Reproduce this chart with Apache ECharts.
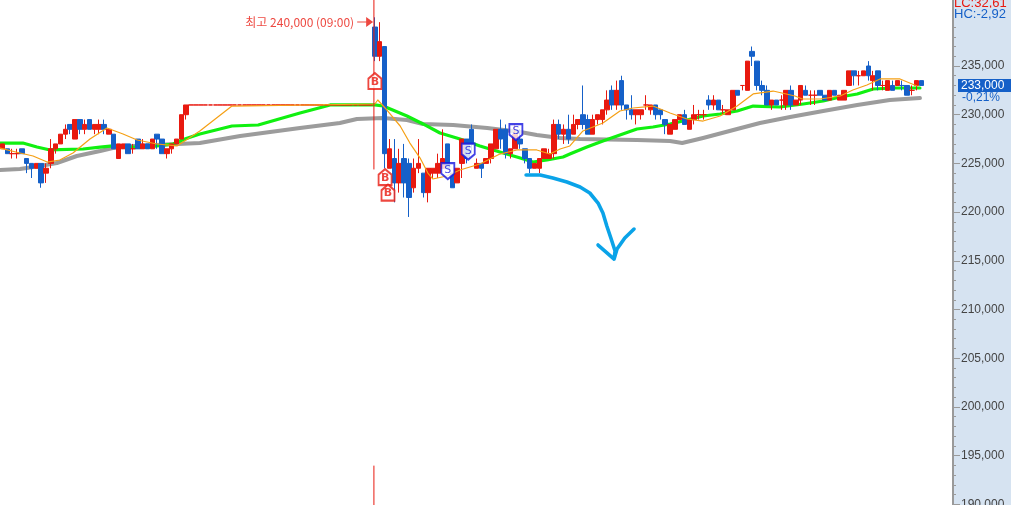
<!DOCTYPE html>
<html><head><meta charset="utf-8">
<style>html,body{margin:0;padding:0;background:#d6e3f1;overflow:hidden}#c{width:1011px;height:505px}</style>
<script src="https://cdn.jsdelivr.net/npm/echarts@6/dist/echarts.min.js"></script>
</head><body><div id="c"></div>
<script>
// candle rows: open, close, low, high (thousand won)
const candlesMorning = [
[226.5,227,226.5,227],[226.5,226,226,226.5],[226,226,225.5,226.5],[226,226,225.5,226.5],[226.5,226,226,226.5],
[225.5,225,224,225.5],[225,224.5,223.5,225],[224.5,225,224.5,225],[225,223,222.5,225],[224,224.5,223,225],
[225,226.5,224.5,227.5],[226.5,227,226,227],[227,228,227,228],[228,228.5,227.5,229],[229,228.5,228,229],
[227.5,229.5,227.5,229.5],[229.5,228.5,228,229.5],[228.5,229,228,229.5],[229.5,228.5,228.5,229.5],[228.5,229,228,229],
[228.5,229,228,229.5],[229,228.5,228,229.5],[228,228.5,228,228.5],[228,226.5,226.5,228],[225.5,227,225.5,227],
[226.5,227,226.5,227],[227,226,226,227],[226.5,226.5,226,227],[227.5,226.5,226.5,227.5],[226.5,227,226.5,227.5],
[227,226.5,226.5,227],[226.5,227.5,226.5,227.5],[228,227.5,226.5,228],[227.5,226,226,227.5],[226,226.5,225.5,226.5],
[226.5,227,226,227],[227,227.5,227,227.5],[227.5,230,227.5,230],[230,231,229.5,231]];
const candlesFlat = [
[231,231,231,231],[231,231,231,231],[231,231,231,231],[231,231,231,231],[231,231,231,231],[231,231,231,231],[231,231,231,231],[231,231,231,231],
[231,231,231,231],[231,231,231,231],[231,231,231,231],[231,231,231,231],[231,231,231,231],[231,231,231,231],[231,231,231,231],[231,231,231,231],
[231,231,231,231],[231,231,231,231],[231,231,231,231],[231,231,231,231],[231,231,231,231],[231,231,231,231],[231,231,231,231],[231,231,231,231],
[231,231,231,231],[231,231,231,231],[231,231,231,231],[231,231,231,231],[231,231,231,231],[231,231,231,231],[231,231,231,231],[231,231,231,231],
[231,231,231,231],[231,231,231,231],[231,231,231,231],[231,231,231,231],[231,231,231,231],[231,231,231,231]];
const candlesOpen = [
[239,236,235.5,240],[236,237.5,235.5,239.5],[237,226,224.5,237],[224.5,226.5,224.5,227.5],[225.5,223,221,227.5],
[223,225,222,226.5],[225.5,223,221.5,227],[225,221.5,219.5,225.5],[222.5,224.5,222,225.5],
[224.5,225,224,227.5],[224,222,221.5,224],[222,224.5,221,224.5],[224,224.5,223.5,224.5],[224,225,223.5,226],
[224.5,225.5,224.5,228.5],[227,224.5,224.5,227],[224,222.5,222.5,224],[223,224.5,223,224.5],[225,227.5,223.5,227.5],
[227.5,225.5,225,227.5],[228.5,227,226,229],[224.5,225,224.5,225.5],[225,224.5,223.5,225],[225,225.5,225,225.5],
[225.5,227,225,227],[226.5,228.5,226.5,228.5],[228.5,227.5,226.5,229.5],[228.5,226,225.5,229],[226,226.5,225.5,226.5],
[226.5,228,226.5,229],[227.5,227,226.5,228.5],[226.5,225.5,225,226.5],[225.5,224.5,224,225.5],[224.5,225,224.5,225],
[224.5,225.5,224,225.5],[225.5,226.5,225.5,226.5],[225.5,226,225.5,226.5],[226,229,225.5,229.5],[229,228,227.5,229.5],
[228,228.5,227,229],[228.5,227.5,227,230],[228,229,228,230]];
const candlesMidday = [
[229,229.5,228.5,229.5],[230,229,228.5,233],[229.5,228,228,230],[228,229.5,228,230],[229.5,230,229,230],
[229.5,230.5,229,230.5],[230.5,231.5,230,232.5],[232.5,231,230.5,233],[231,232.5,230.5,233.5],[233.5,231,230.5,234],
[231,230.5,229.5,231],[230.5,230,229.5,232],[230,230.5,229,230.5],[230,230.5,229.5,230.5],[231,231,230.5,232],
[230.5,231,230,231],[231,230,229.5,231],[230.5,230,229.5,230.5],[229.5,229,228,229.5],[228,229,228,229],
[228.5,229.5,228.5,229.5],[229.5,230,229.5,230],[230,229,229,230.5],[228.5,229.5,228.5,229.5],[229.5,230,229,231],
[230,230,229.5,230.5],[230,230,229.5,230.5],[231.5,231,230.5,232],[231,231.5,230.5,232],[231.5,230.5,230.5,231.5],
[230.5,230.5,230,231],[230,230.5,230,230.5],[230.5,232.5,230.5,232.5],[232.5,232,232,232.5]];
const candlesClose = [
[233,233,232.5,233],[232.5,235.5,232.5,235.5],[236.5,236,235,237],[235.5,233,232.5,235.5],[233,232.5,232,233.5],
[232.5,231,231,233],[231,231.5,230.5,231.5],[231.5,231,231,231.5],[231.5,231.5,230.5,232],[231,232.5,230.5,232.5],
[232.5,231,230.5,233],[231,231.5,231,231.5],[231.5,233,231,233],[232.5,232,232,233],[232,232,231,232.5],
[232,232,231,232.5],[232.5,232,232,232.5],[232,231.5,231.5,232],[231.5,232.5,231.5,232.5],[232.5,232,232,232.5],
[231.5,232,231.5,232],[231.5,232.5,231.5,232.5],[233,234.5,233,234.5],[234.5,234,233,234.5],[234,234,233,234.5],
[234,234.5,234,234.5],[235,234,233.5,235.5],[233.5,234,232.5,234.5],[234.5,233,232.5,234.5],[233,233,232.5,233.5],
[232.5,233.5,232.5,233.5],[233,232.5,232.5,233.5],[233,233.5,233,233.5],[233,233,232.5,233.5],[233,232,232,233],
[232.5,232.5,232,233],[233,233.5,232.5,233.5],[233.5,233,233,233.5]];
const emptySlots = ['-','-','-','-','-','-'];
// moving averages as [bar position, thousand won]
const maOrange = [[0,226.58],[4.1,226.07],[6.8,225.76],[9.7,225.14],[12.3,225.35],[15,226.07],[18.5,227.5],[22,228.63],[25.3,228.02],[28.2,227.4],[32.3,226.99],[36.4,226.79],[41.1,228.33],[47.7,230.89],[77.1,231.1],[77.7,231.51],[79.2,230.69],[82.3,228.84],[84.3,227.09],[86.4,225.55],[88,224.01],[89,223.4],[91.9,223.71],[94.6,224.32],[98.7,224.94],[102.8,225.96],[106.3,226.38],[110.4,226.38],[113.1,225.96],[115.2,226.48],[117.2,226.79],[119.9,228.33],[124,229.15],[127.5,230.38],[130.2,230.69],[134.3,230.89],[137.8,230.17],[141.3,229.56],[144.6,229.35],[148.1,229.87],[151.6,230.89],[154.9,232.13],[159,232.43],[163.5,231.92],[165,231.61],[168.7,231.61],[172.8,231.92],[175.4,232.54],[178.3,233.05],[181,233.67],[185.1,233.67],[188.6,232.95]];
const maGreen = [[0,227.09],[4.7,227.09],[7.6,226.68],[10.3,226.38],[17.1,226.48],[20.6,226.68],[23.2,226.79],[27.4,226.68],[30.2,226.68],[35.6,226.99],[38,227.5],[41.1,228.02],[47.7,228.84],[53.1,228.94],[61.7,230.17],[67.9,231],[77.1,231],[78.8,230.89],[83.7,229.87],[87,229.05],[90.5,228.12],[94.6,227.5],[98.7,226.79],[102.8,226.17],[107,225.55],[109.6,225.14],[112.5,225.35],[115.8,225.66],[117.2,225.96],[120.7,226.68],[124,227.3],[127.5,227.92],[131,228.53],[134.3,228.74],[137.8,229.05],[141.3,229.46],[144.6,229.87],[148.1,230.07],[151.6,230.38],[154.9,230.89],[160.4,230.79],[165.2,231.1],[169.3,231.41],[172.8,231.82],[176.3,232.13],[179.6,232.64],[183.7,232.74],[189.2,232.74]];
const maGray = [[0,224.32],[4.1,224.42],[8.2,224.73],[11.7,225.04],[15.8,225.76],[20.6,226.27],[23.2,226.58],[27.4,226.79],[41.1,227.09],[49.4,227.81],[61.7,228.63],[69.9,229.15],[73.4,229.56],[78.8,229.66],[83.7,229.46],[87,229.05],[93.2,228.94],[100.2,228.63],[107,228.22],[110.4,227.92],[115.2,227.61],[119.3,227.5],[131,227.4],[137.8,227.3],[140.3,227.09],[144.6,227.61],[151.6,228.53],[156.3,229.15],[162.5,229.76],[169.3,230.38],[176.3,231],[183,231.51],[189.2,231.71]];
const handArrow = [[108.2,223.81],[111.1,223.81],[113.7,223.5],[116.6,223.09],[119.3,222.58],[121.3,221.96],[123,220.93],[124,219.91],[124.8,218.57],[125.7,217.24],[126.5,216],[126.3,215.18],[123,216.62],[126.3,215.18],[126.9,216.21],[128.5,217.34],[130.4,218.26]];
const dayLineTop = [[76.9,245],[76.9,224.42]];
const dayLineBottom = [[76.9,193.93],[76.9,185]];
const buyMarks = [[77.1,233.46],[79.2,223.6],[79.8,222]];
const sellMarks = [[92.1,224.2],[96.3,226.2],[106.1,228.2]];
const highNote = [[75.1,239.52]];
const highText = '최고 240,000 (09:00)';
const priceTicksMin = 185000, priceTicksMax = 245000, priceStep = 5000;

const RED='#e8190f', BLUE='#1560c8';
const rows=[...candlesMorning,...candlesFlat,...candlesOpen,...candlesMidday,...candlesClose].map(r=>r.map(v=>v*1000));
const candleData=[...rows,...emptySlots];
const cats=candleData.map((_,i)=>String(i));
const scaled=a=>a.map(p=>[p[0],p[1]*1000]);
const chart=echarts.init(document.getElementById('c'),null,{renderer:'canvas'});
const xyLine=(name,data,color,width,z)=>({name,type:'line',xAxisIndex:1,yAxisIndex:0,data:scaled(data),symbol:'none',silent:true,animation:false,z,lineStyle:{color,width,join:'round',cap:'round'}});
const mark=(data,path,color,txt,weight)=>({type:'scatter',xAxisIndex:1,yAxisIndex:0,data:scaled(data),symbol:path,symbolSize:[13,16],z:9,animation:false,
  itemStyle:{color:'#fff',borderColor:color,borderWidth:2},
  label:{show:true,position:'inside',formatter:txt,color,fontSize:11,fontWeight:weight,fontFamily:'DejaVu Sans',offset:[0,txt==='B'?1:-1]}});
chart.setOption({
 animation:false,backgroundColor:'transparent',
 grid:{left:0,width:953,top:-31.4,height:584.4,show:true,backgroundColor:'#fff',borderWidth:0,outerBoundsMode:'none'},
 xAxis:[{type:'category',data:cats,show:false,boundaryGap:true},{type:'value',min:0,max:196,show:false}],
 yAxis:[{type:'value',position:'right',min:priceTicksMin,max:priceTicksMax,interval:priceStep,scale:true,
   axisLine:{show:true,onZero:false,lineStyle:{color:'#9a9a9a',width:2}},
   axisTick:{show:true,length:7,lineStyle:{color:'#9a9a9a',width:1}},
   minorTick:{show:true,splitNumber:5,length:3,lineStyle:{color:'#9a9a9a',width:1}},
   splitLine:{show:false},
   axisLabel:{margin:8,color:'#444',fontSize:12,fontFamily:'Liberation Sans',padding:[2,0,0,0],
     formatter:v=>(v>235000||v<190000)?'':String(v).replace(/(\d)(\d{3})$/,'$1,$2')}}],
 graphic:[
  {type:'text',left:954,top:-3,z:20,style:{text:'LC:32,61',fill:RED,font:'13px "Liberation Sans"',backgroundColor:'#d6e3f1'}},
  {type:'text',left:954,top:8,z:20,style:{text:'HC:-2,92',fill:'#1560c8',font:'13px "Liberation Sans"',backgroundColor:'#d6e3f1'}},
  {type:'rect',left:958,top:79,z:20,shape:{width:53,height:13},style:{fill:'#1560c8'}},
  {type:'text',left:961,top:80,z:21,style:{text:'233,000',fill:'#fff',font:'12px "Liberation Sans"'}},
  {type:'text',left:962,top:92,z:21,style:{text:'-0,21%',fill:'#1560c8',font:'12px "Liberation Sans"'}}
 ],
 series:[
  xyLine('gray',maGray,'#9c9c9c',4,2),
  xyLine('green',maGreen,'#10f010',3.2,3),
  {type:'candlestick',data:candleData,barWidth:5,z:4,animation:false,silent:true,
   itemStyle:{color:RED,color0:BLUE,borderColor:RED,borderColor0:BLUE,borderWidth:1}},
  xyLine('orange',maOrange,'#f5a015',1.2,5),
  xyLine('arrow',handArrow,'#0aa3e8',3.6,8),
  xyLine('dayTop',dayLineTop,RED,1,6),
  xyLine('dayBottom',dayLineBottom,RED,1,6),
  mark(buyMarks,'path://M0 6L7 0L14 6V17H0Z',RED,'B','bold'),
  mark(sellMarks,'path://M0 0H14V11L7 17L0 11Z','#1414e0','S','normal'),
  {type:'scatter',xAxisIndex:1,yAxisIndex:0,data:scaled(highNote),symbol:'path://M0 4.4H9V0L16 5L9 10V5.6H0Z',symbolSize:[16,10],z:9,animation:false,
   itemStyle:{color:RED},label:{show:true,position:'left',distance:3,formatter:highText,color:RED,fontSize:12,fontFamily:'Noto Sans CJK KR'}}
 ]
});
</script></body></html>
